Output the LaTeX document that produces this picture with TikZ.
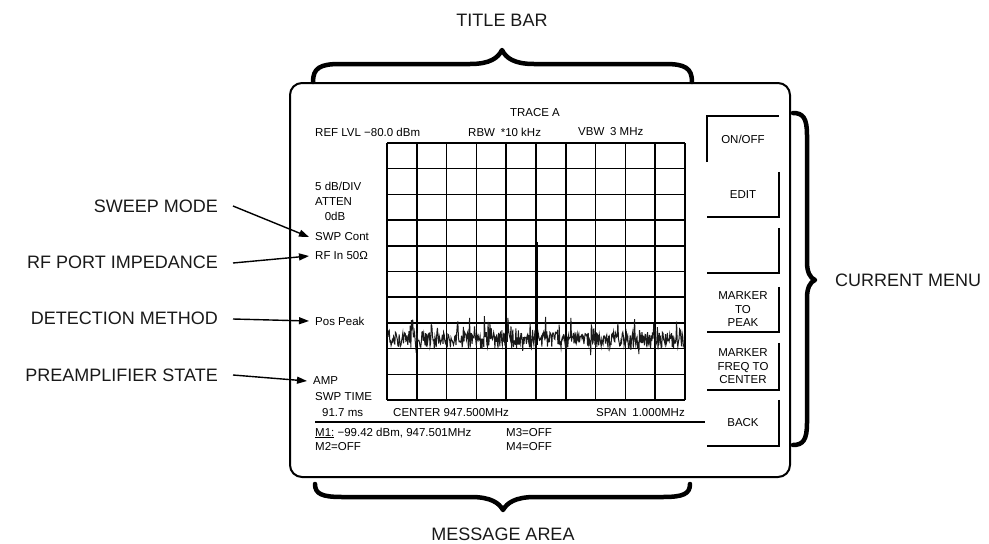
\documentclass[tikz,border=0pt]{standalone}
\usepackage{fontspec}
\setmainfont{Liberation Sans}
\usetikzlibrary{arrows.meta}
\begin{document}
\begin{tikzpicture}[x=1pt,y=-1pt,
  lbl/.style={font=\fontsize{18}{20}\selectfont, inner sep=0, text=black!90},
  scr/.style={font=\fontsize{11.5}{13.5}\selectfont, inner sep=1pt},
  btn/.style={minimum width=72pt, minimum height=45pt, inner sep=0, align=center, font=\fontsize{11.5}{13.5}\selectfont},
  brace/.style={line width=4.5pt, line cap=round, line join=round},
  arr/.style={line width=1.4pt, -{Triangle[length=10pt,width=7pt]}},
  frame/.style={line width=1.6pt},
  gridline/.style={line width=1.5pt}]
\useasboundingbox (0,0) rectangle (989,544);

% screen outline
\node[draw, line width=2pt, rounded corners=12pt, minimum width=500pt, minimum height=394pt, inner sep=0] (screen) at (540,280) {};

% braces
\draw[brace] (313,82) .. controls (313,68) and (320,64) .. (340,64) -- (470,64)
  .. controls (490,64) and (498,58) .. (502,50)
  .. controls (506,58) and (514,64) .. (534,64) -- (665,64)
  .. controls (685,64) and (692,68) .. (692,82);
\draw[brace] (315,484) .. controls (315,494) and (322,497) .. (342,497) -- (471,497)
  .. controls (491,497) and (499,503) .. (503,510)
  .. controls (507,503) and (515,497) .. (535,497) -- (663,497)
  .. controls (683,497) and (690,494) .. (690,484);
\draw[brace] (793,113) .. controls (803,113) and (807,118) .. (807,135) -- (807,262)
  .. controls (807,272) and (810,278) .. (815,280)
  .. controls (810,282) and (807,288) .. (807,298) -- (807,423)
  .. controls (807,440) and (803,445) .. (793,445);

\node[lbl] (title) at (502,20) {TITLE BAR};
\node[lbl] (msg) at (503,534) {MESSAGE AREA};
\node[lbl, anchor=west] (menu) at (835,280) {CURRENT MENU};

% grid
\foreach \i in {0,...,10} {
  \draw[gridline] ({387+29.8*\i},143) -- ({387+29.8*\i},400);
  \draw[gridline] (387,{143+25.7*\i}) -- (685,{143+25.7*\i});
}
% trace
\pgfmathsetseed{11}
\draw[line width=1pt, black!90] plot[domain=388:684, samples=480] (\x, {340 + 8*rand - 16*(rnd>0.82)*rnd + 10*(rnd>0.92)*rnd});
\draw[line width=1.8pt] (537,345) -- (537,242);

% screen header texts
\node[scr] (trace) at (535,113) {TRACE A};
\node[scr, anchor=west] (ref) at (314,132) {REF LVL −80.0 dBm};
\node[scr, anchor=west] (rbw) at (467,132) {RBW\enspace*10 kHz};
\node[scr, anchor=west] (vbw) at (577,132) {VBW\enspace 3 MHz};

% left panel texts
\node[scr, anchor=west] (div) at (314,186) {5 dB/DIV};
\node[scr, anchor=west] (atten) at (314,202) {ATTEN};
\node[scr] (odb) at (335,216) {0dB};
\node[scr, anchor=west] (swp) at (314,237) {SWP Cont};
\node[scr, anchor=west] (rfin) at (314,256) {RF In 50Ω};
\node[scr, anchor=west] (pos) at (314,321) {Pos Peak};
\node[scr, anchor=west] (amp) at (312,381) {AMP};
\node[scr, anchor=west] (swpt) at (314,397) {SWP TIME};
\node[scr, anchor=west] (stime) at (321,413) {91.7 ms};

% bottom texts
\node[scr, anchor=west] (center) at (392,413) {CENTER 947.500MHz};
\node[scr, anchor=east] (span) at (686,413) {SPAN\enspace 1.000MHz};
\coordinate (sepL) at (315,422);
\coordinate (sepR) at (705,422);
\draw[frame] (sepL) -- (sepR);
\node[scr, anchor=west] (m1) at (314,433) {\underline{M1:} −99.42 dBm, 947.501MHz};
\node[scr, anchor=west] (m3) at (505,433) {M3=OFF};
\node[scr, anchor=west] (m2) at (314,447) {M2=OFF};
\node[scr, anchor=west] (m4) at (505,447) {M4=OFF};

% menu buttons
\node[btn, minimum height=46pt] (b1) at (743,139) {ON/OFF};
\node[btn] (b2) at (743,194.5) {EDIT};
\node[btn] (b3) at (743,250.5) {};
\node[btn] (b4) at (743,309.5) {MARKER\\TO\\PEAK};
\node[btn, minimum height=47pt] (b5) at (743,366.5) {MARKER\\FREQ TO\\CENTER};
\node[btn, minimum height=46pt] (b6) at (743,423) {BACK};
\draw[frame] (b1.south west) |- (b1.north east);
\foreach \b in {b2,b3,b4,b5,b6} \draw[frame] (\b.north east) |- (\b.south west);

% annotation labels and arrows
\node[lbl, anchor=east] (sweep) at (218,206) {SWEEP MODE};
\node[lbl, anchor=east] (rfport) at (218,262) {RF PORT IMPEDANCE};
\node[lbl, anchor=east] (detect) at (218,318) {DETECTION METHOD};
\node[lbl, anchor=east] (preamp) at (218,375) {PREAMPLIFIER STATE};
\draw[arr] ([xshift=15pt]sweep.east) -- ([xshift=-5pt]swp.west);
\draw[arr] ([xshift=15pt,yshift=-1pt]rfport.east) -- ([xshift=-5pt]rfin.west);
\draw[arr] ([xshift=15pt,yshift=-1pt]detect.east) -- ([xshift=-5pt]pos.west);
\draw[arr] ([xshift=15pt]preamp.east) -- ([xshift=-5pt]amp.west);
\end{tikzpicture}
\end{document}
